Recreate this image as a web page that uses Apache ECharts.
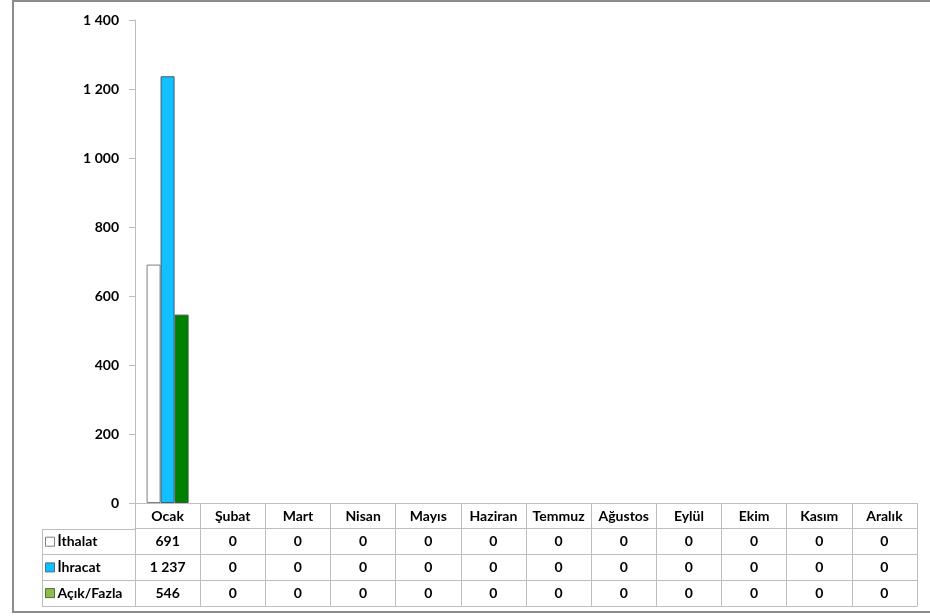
<!DOCTYPE html>
<html>
<head>
<meta charset="utf-8">
<script src="https://cdn.jsdelivr.net/npm/echarts@6/dist/echarts.min.js"></script>
<style>
html,body{margin:0;padding:0;background:#fff;}
#c{width:930px;height:616px;}
</style>
</head>
<body>
<div id="c"></div>
<script>
const categories = ['Ocak','Şubat','Mart','Nisan','Mayıs','Haziran','Temmuz','Ağustos','Eylül','Ekim','Kasım','Aralık'];
const seriesNames = ['İthalat','İhracat','Açık/Fazla'];
const ithalat = [691,0,0,0,0,0,0,0,0,0,0,0];
const ihracat = [1237,0,0,0,0,0,0,0,0,0,0,0];
const acikFazla = [546,0,0,0,0,0,0,0,0,0,0,0];
const yTicks = [0,200,400,600,800,1000,1200,1400];

const FONT = 'Lato';
const FS = 14;
const GRID = {left:135, right:13, top:20, bottom:113};
const ROW_H = 25.7;
const LINE = '#bdbdbd';

function fmt(v){
  return String(v).replace(/\B(?=(\d{3})+(?!\d))/g, ' ');
}

const rows = [ithalat, ihracat, acikFazla];
const xAxes = [{
  type:'category', data:categories, gridIndex:0, position:'bottom', offset:0,
  axisLine:{lineStyle:{color:LINE,width:1}},
  axisTick:{show:true, length:ROW_H, inside:false, lineStyle:{color:LINE}},
  axisLabel:{interval:0, margin:6, color:'#000', fontFamily:FONT, fontWeight:'bold', fontSize:FS}
}];
rows.forEach((arr,i)=>{
  xAxes.push({
    type:'category', data:categories, gridIndex:0, position:'bottom', offset:ROW_H*(i+1),
    axisLine:{lineStyle:{color:LINE,width:1}},
    axisTick:{show:true, length:ROW_H, inside:false, lineStyle:{color:LINE}},
    axisLabel:{interval:0, margin:6, color:'#000', fontFamily:FONT, fontWeight:'bold', fontSize:FS,
      formatter:(val, idx)=>fmt(arr[idx])}
  });
});
xAxes.push({
  type:'category', data:categories, gridIndex:0, position:'bottom', offset:ROW_H*4,
  axisLine:{lineStyle:{color:LINE,width:1}},
  axisTick:{show:false}, axisLabel:{show:false}
});

const chart = echarts.init(document.getElementById('c'), null, {renderer:'canvas'});
const tableTop = 616 - GRID.bottom;
const legendLeft = 42;
const hLines = [];
for(let i=1;i<=4;i++){
  const y = Math.round(tableTop + ROW_H*i) + 0.5;
  hLines.push({type:'line', shape:{x1:legendLeft, y1:y, x2:GRID.left, y2:y}, style:{stroke:LINE, lineWidth:1}});
}
hLines.push({type:'line', shape:{x1:legendLeft+0.5, y1:Math.round(tableTop+ROW_H)+0.5, x2:legendLeft+0.5, y2:Math.round(tableTop+ROW_H*4)+0.5}, style:{stroke:LINE, lineWidth:1}});
hLines.push({type:'rect', shape:{x:13, y:1, width:930, height:611}, style:{fill:null, stroke:'#8c8c8c', lineWidth:2}, z:100});

const colors = ['#ffffff','#12bfff','#008000'];
const borders = ['#7f7f7f','#3f5f6f','#2f5f2f'];
const legendColors = ['#ffffff','#12bfff','#8fbc4f'];
const legendBorders = ['#7f7f7f','#3f6f8f','#4f6f2f'];
const seriesData = [ithalat, ihracat, acikFazla];

chart.setOption({
  animation:false,
  textStyle:{fontFamily:FONT},
  grid:GRID,
  legend:{
    orient:'vertical', left:legendLeft+3, top:tableTop+ROW_H+4, itemWidth:9, itemHeight:9, itemGap:ROW_H-18,
    selectedMode:false, padding:0,
    textStyle:{fontFamily:FONT, fontWeight:'bold', fontSize:FS, color:'#000', lineHeight:18, padding:[0,0,0,-2]},
    data:seriesNames.map((n,i)=>({name:n, icon:'rect', itemStyle:{color:legendColors[i], borderColor:legendBorders[i], borderWidth:1}}))
  },
  xAxis:xAxes,
  yAxis:{
    type:'value', min:0, max:1400, interval:200,
    axisLine:{show:true, lineStyle:{color:LINE}},
    axisTick:{show:true, length:6, lineStyle:{color:LINE}},
    splitLine:{show:false},
    axisLabel:{margin:16, color:'#000', fontFamily:FONT, fontWeight:'bold', fontSize:FS,
      formatter:v=>fmt(v)}
  },
  graphic:hLines,
  series:seriesNames.map((n,i)=>({
    name:n, type:'bar', xAxisIndex:0,
    data:seriesData[i].map(v => v === 0 ? {value:v, itemStyle:{borderWidth:0}} : v),
    barWidth:14, barGap:'0%',
    itemStyle:{color:colors[i], borderColor:borders[i], borderWidth:1}
  }))
});
</script>
</body>
</html>
